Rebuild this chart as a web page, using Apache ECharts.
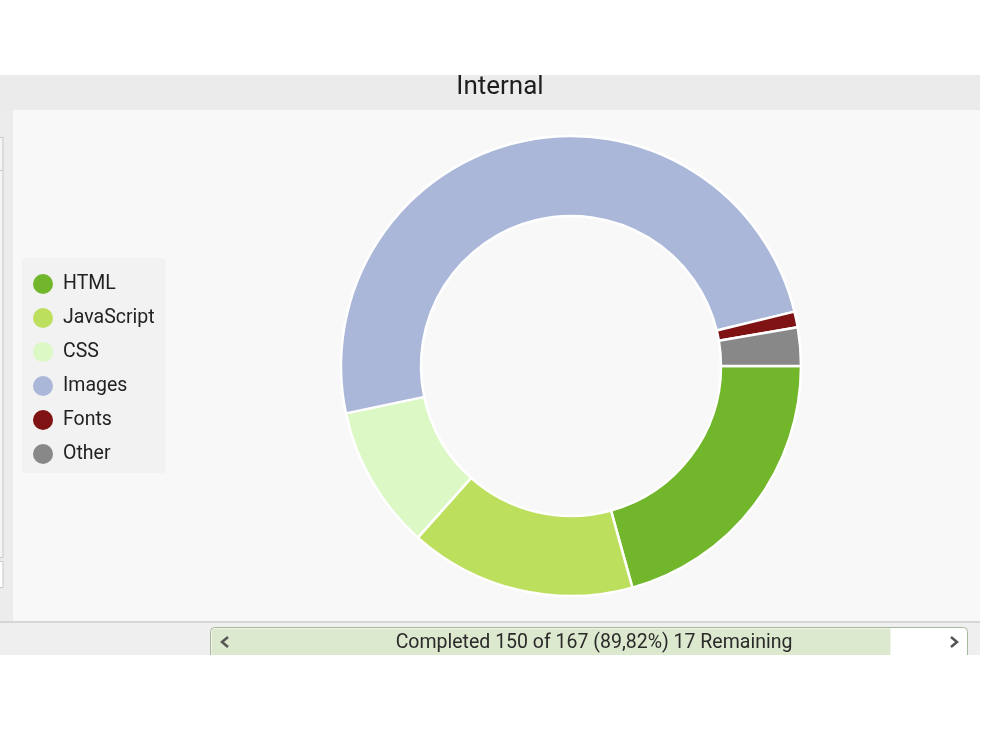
<!DOCTYPE html>
<html>
<head>
<meta charset="utf-8">
<script src="https://cdn.jsdelivr.net/npm/echarts@6/dist/echarts.min.js"></script>
<style>
html,body{margin:0;padding:0;background:#fff;}
#chart{width:1000px;height:750px;}
</style>
</head>
<body>
<div id="chart"></div>
<script>
const titleText = "Internal";
const categories = ["HTML", "JavaScript", "CSS", "Images", "Fonts", "Other"];
const shares = [20.7, 15.9, 10.1, 49.5, 1.1, 2.7];
const colors = ["#72b62b", "#bddf5e", "#dcf8c5", "#aab7d9", "#7f1212", "#888888"];
const completed = 150;
const total = 167;
const remaining = 17;
const statusText = "Completed 150 of 167 (89,82%) 17 Remaining";

const chart = echarts.init(document.getElementById('chart'), null, {renderer: 'canvas'});
const font = 'Roboto, "Noto Sans", sans-serif';
const barX = 210.5, barY = 627.5, barW = 757, barH = 34;
const fillW = barW * completed / total;

const option = {
  backgroundColor: '#ffffff',
  animation: false,
  graphic: [
    {type: 'rect', z: -10, shape: {x: 0, y: 75, width: 980, height: 35}, style: {fill: '#ebebeb'}},
    {type: 'rect', z: -10, shape: {x: 0, y: 110, width: 13, height: 512}, style: {fill: '#ececec'}},
    {type: 'rect', z: -10, shape: {x: 13, y: 110, width: 967, height: 511}, style: {fill: '#f8f8f8'}},
    {type: 'rect', z: -9, shape: {x: -5, y: 137.5, width: 8, height: 420}, style: {fill: '#f4f4f4', stroke: '#c8c8c8', lineWidth: 1}},
    {type: 'line', z: -9, shape: {x1: 0, y1: 170.5, x2: 3, y2: 170.5}, style: {stroke: '#c8c8c8', lineWidth: 1}},
    {type: 'rect', z: -9, shape: {x: -5, y: 561.5, width: 8, height: 26}, style: {fill: '#ffffff', stroke: '#c8c8c8', lineWidth: 1}},
    {type: 'rect', z: -10, shape: {x: 0, y: 621, width: 980, height: 2}, style: {fill: '#d6d6d6'}},
    {type: 'rect', z: -10, shape: {x: 0, y: 623, width: 980, height: 32}, style: {fill: '#efefef'}},
    {type: 'rect', z: -8, shape: {x: barX, y: barY, width: barW, height: barH, r: 4}, style: {fill: '#ffffff'}},
    {type: 'rect', z: -7, shape: {x: barX + 1, y: barY + 1, width: fillW - 1, height: barH - 2, r: [3, 0, 0, 3]}, style: {fill: '#dde9cf'}},
    {type: 'rect', z: -6, shape: {x: barX, y: barY, width: barW, height: barH, r: 4}, style: {fill: 'none', stroke: '#a8b89a', lineWidth: 1}},
    {type: 'polyline', z: -5, shape: {points: [[228, 637], [222, 642], [228, 647]]}, style: {stroke: '#555', lineWidth: 2.5, fill: 'none'}},
    {type: 'polyline', z: -5, shape: {points: [[951, 637], [957, 642], [951, 647]]}, style: {stroke: '#555', lineWidth: 2.5, fill: 'none'}},
    {type: 'text', z: -4, style: {x: 594, y: 643, text: statusText, fill: '#2a2a2a', font: '19.5px ' + font, textAlign: 'center', textVerticalAlign: 'middle'}},
    {type: 'rect', z: -3, shape: {x: 0, y: 655, width: 1000, height: 95}, style: {fill: '#ffffff'}},
    {type: 'text', z: 5, style: {x: 500, y: 87, text: titleText, fill: '#1e1e1e', font: '26px ' + font, textAlign: 'center', textVerticalAlign: 'middle'}}
  ],
  legend: {
    orient: 'vertical',
    left: 22,
    top: 258,
    backgroundColor: '#f2f2f2',
    borderRadius: 3,
    padding: [16, 11, 9, 11],
    itemWidth: 20,
    itemHeight: 20,
    itemGap: 14,
    icon: 'circle',
    itemStyle: {borderWidth: 0},
    data: categories,
    textStyle: {fontSize: 19.5, color: '#222', fontFamily: font, padding: [0, 0, 0, 5]}
  },
  series: [{
    type: 'pie',
    center: [571, 366],
    radius: [150, 230],
    startAngle: 0,
    clockwise: true,
    label: {show: false},
    labelLine: {show: false},
    emphasis: {disabled: true},
    itemStyle: {borderColor: '#ffffff', borderWidth: 2.5},
    data: categories.map((c, i) => ({name: c, value: shares[i], itemStyle: {color: colors[i]}}))
  }]
};
chart.setOption(option);
</script>
</body>
</html>
